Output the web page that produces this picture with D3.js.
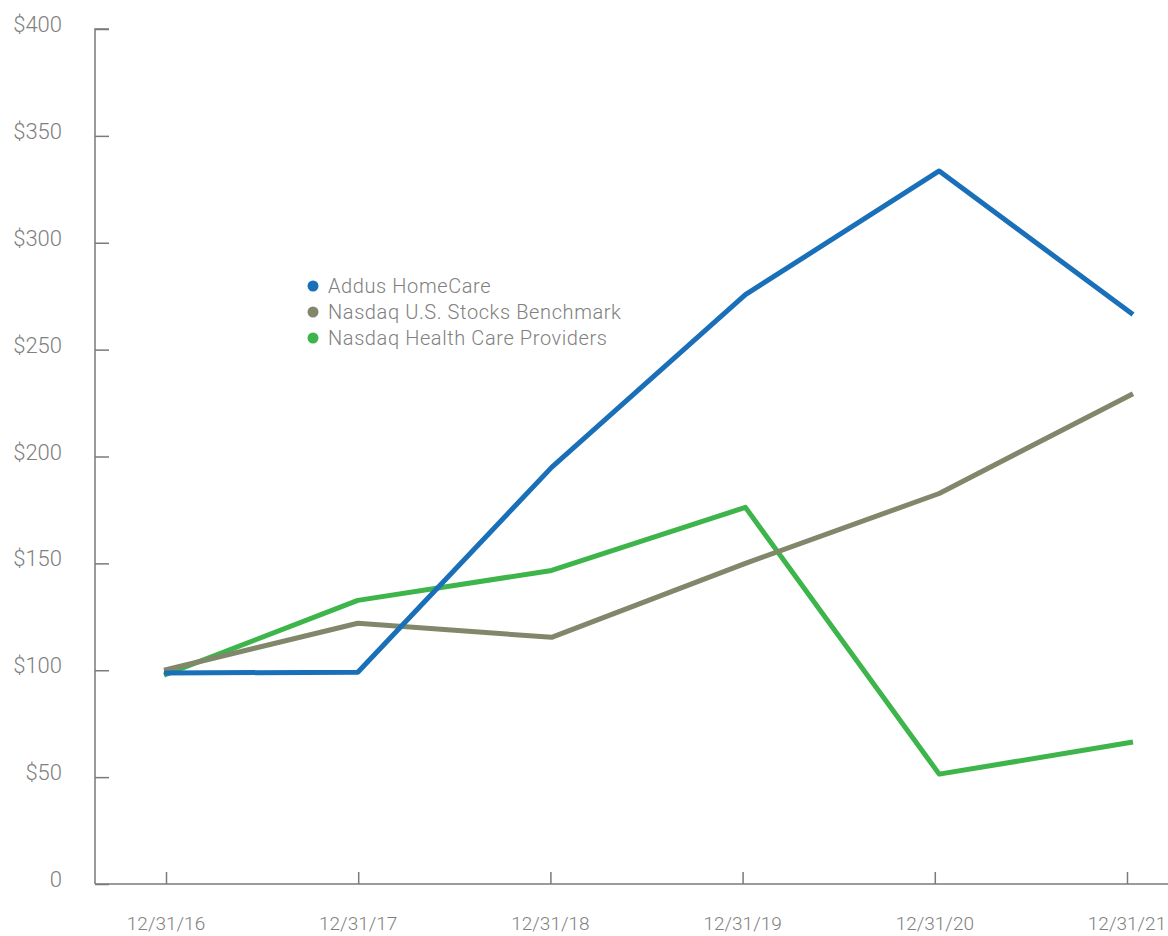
<!DOCTYPE html>
<html>
<head>
<meta charset="utf-8">
<script src="https://cdn.jsdelivr.net/npm/d3@7"></script>
<style>
  body { margin: 0; background: #fff; }
  svg text { font-family: Roboto, "Liberation Sans", sans-serif; font-weight: 300; fill: #808080; }
</style>
</head>
<body>
<svg id="chart"></svg>
<script>
let years = ['12/31/16', '12/31/17', '12/31/18', '12/31/19', '12/31/20', '12/31/21'];
let addus = [98.7, 99.1, 194.9, 275.7, 333.6, 266.4];
let nasdaqUS = [100, 122, 115.4, 150, 182.7, 229.4];
let healthCare = [97.7, 132.7, 146.7, 176.2, 51.4, 66.4];
let yTicks = [0, 50, 100, 150, 200, 250, 300, 350, 400];

let seriesNames = ['Addus HomeCare', 'Nasdaq U.S. Stocks Benchmark', 'Nasdaq Health Care Providers'];
let seriesColors = ['#1a6fb9', '#80876a', '#3db54a'];

function makeChart() {
  let w = 1168;
  let h = 936;
  let chart = d3.select('#chart')
    .attr('width', w)
    .attr('height', h);

  let left = 95, right = 1168, top = 29, bottom = 884;

  // ticks and labels sit on this scale
  let xScale = d3.scalePoint()
    .domain(years)
    .range([166, 1127]);

  // the plotted points drift a little right of the ticks in the original
  let xLine = d3.scalePoint()
    .domain(years)
    .range([164, 1133]);

  let yScale = d3.scaleLinear()
    .domain([0, 400])
    .range([bottom, top]);

  // AXES
  let yAxis = chart.append('g')
    .attr('transform', `translate(${left},0)`)
    .call(d3.axisRight(yScale).tickValues(yTicks).tickSize(14).tickFormat(''));
  yAxis.select('.domain').attr('d', `M14,${top}H0V${bottom}`);
  yAxis.selectAll('line, path').attr('stroke', '#7a7a7a').attr('stroke-width', 1.5);

  chart.selectAll('.ylabel')
    .data(yTicks)
    .enter()
    .append('text')
    .attr('class', 'ylabel')
    .attr('x', 62)
    .attr('y', (d) => yScale(d) + 3)
    .attr('text-anchor', 'end')
    .style('font-size', '22px')
    .text((d) => d === 0 ? '0' : '$' + d);

  let xAxis = chart.append('g')
    .attr('transform', `translate(0,${bottom})`)
    .call(d3.axisTop(xScale).tickSize(12).tickFormat(''));
  xAxis.select('.domain').attr('d', `M${left},0H${right}`);
  xAxis.selectAll('line, path').attr('stroke', '#7a7a7a').attr('stroke-width', 1.5);

  chart.selectAll('.xlabel')
    .data(years)
    .enter()
    .append('text')
    .attr('class', 'xlabel')
    .attr('x', (d) => xScale(d))
    .attr('y', 930)
    .attr('text-anchor', 'middle')
    .style('font-size', '19px')
    .text((d) => d);

  // LINES (green first, then olive, blue on top)
  let line = d3.line()
    .x((d, i) => xLine(years[i]))
    .y((d) => yScale(d));

  let data = [addus, nasdaqUS, healthCare];
  [2, 1, 0].forEach((k) => {
    chart.append('path')
      .datum(data[k])
      .attr('d', line)
      .attr('fill', 'none')
      .attr('stroke', seriesColors[k])
      .attr('stroke-width', 5)
      .attr('stroke-linejoin', 'round');
  });

  // LEGEND
  let legend = chart.selectAll('.legend')
    .data(seriesNames)
    .enter()
    .append('g')
    .attr('class', 'legend')
    .attr('transform', (d, i) => `translate(313, ${286 + i * 26})`);

  legend.append('circle')
    .attr('r', 5.5)
    .attr('fill', (d, i) => seriesColors[i]);

  legend.append('text')
    .attr('x', 15)
    .attr('y', 7)
    .style('font-size', '20px')
    .style('letter-spacing', '0.6px')
    .text((d) => d);
}

makeChart();
</script>
</body>
</html>
